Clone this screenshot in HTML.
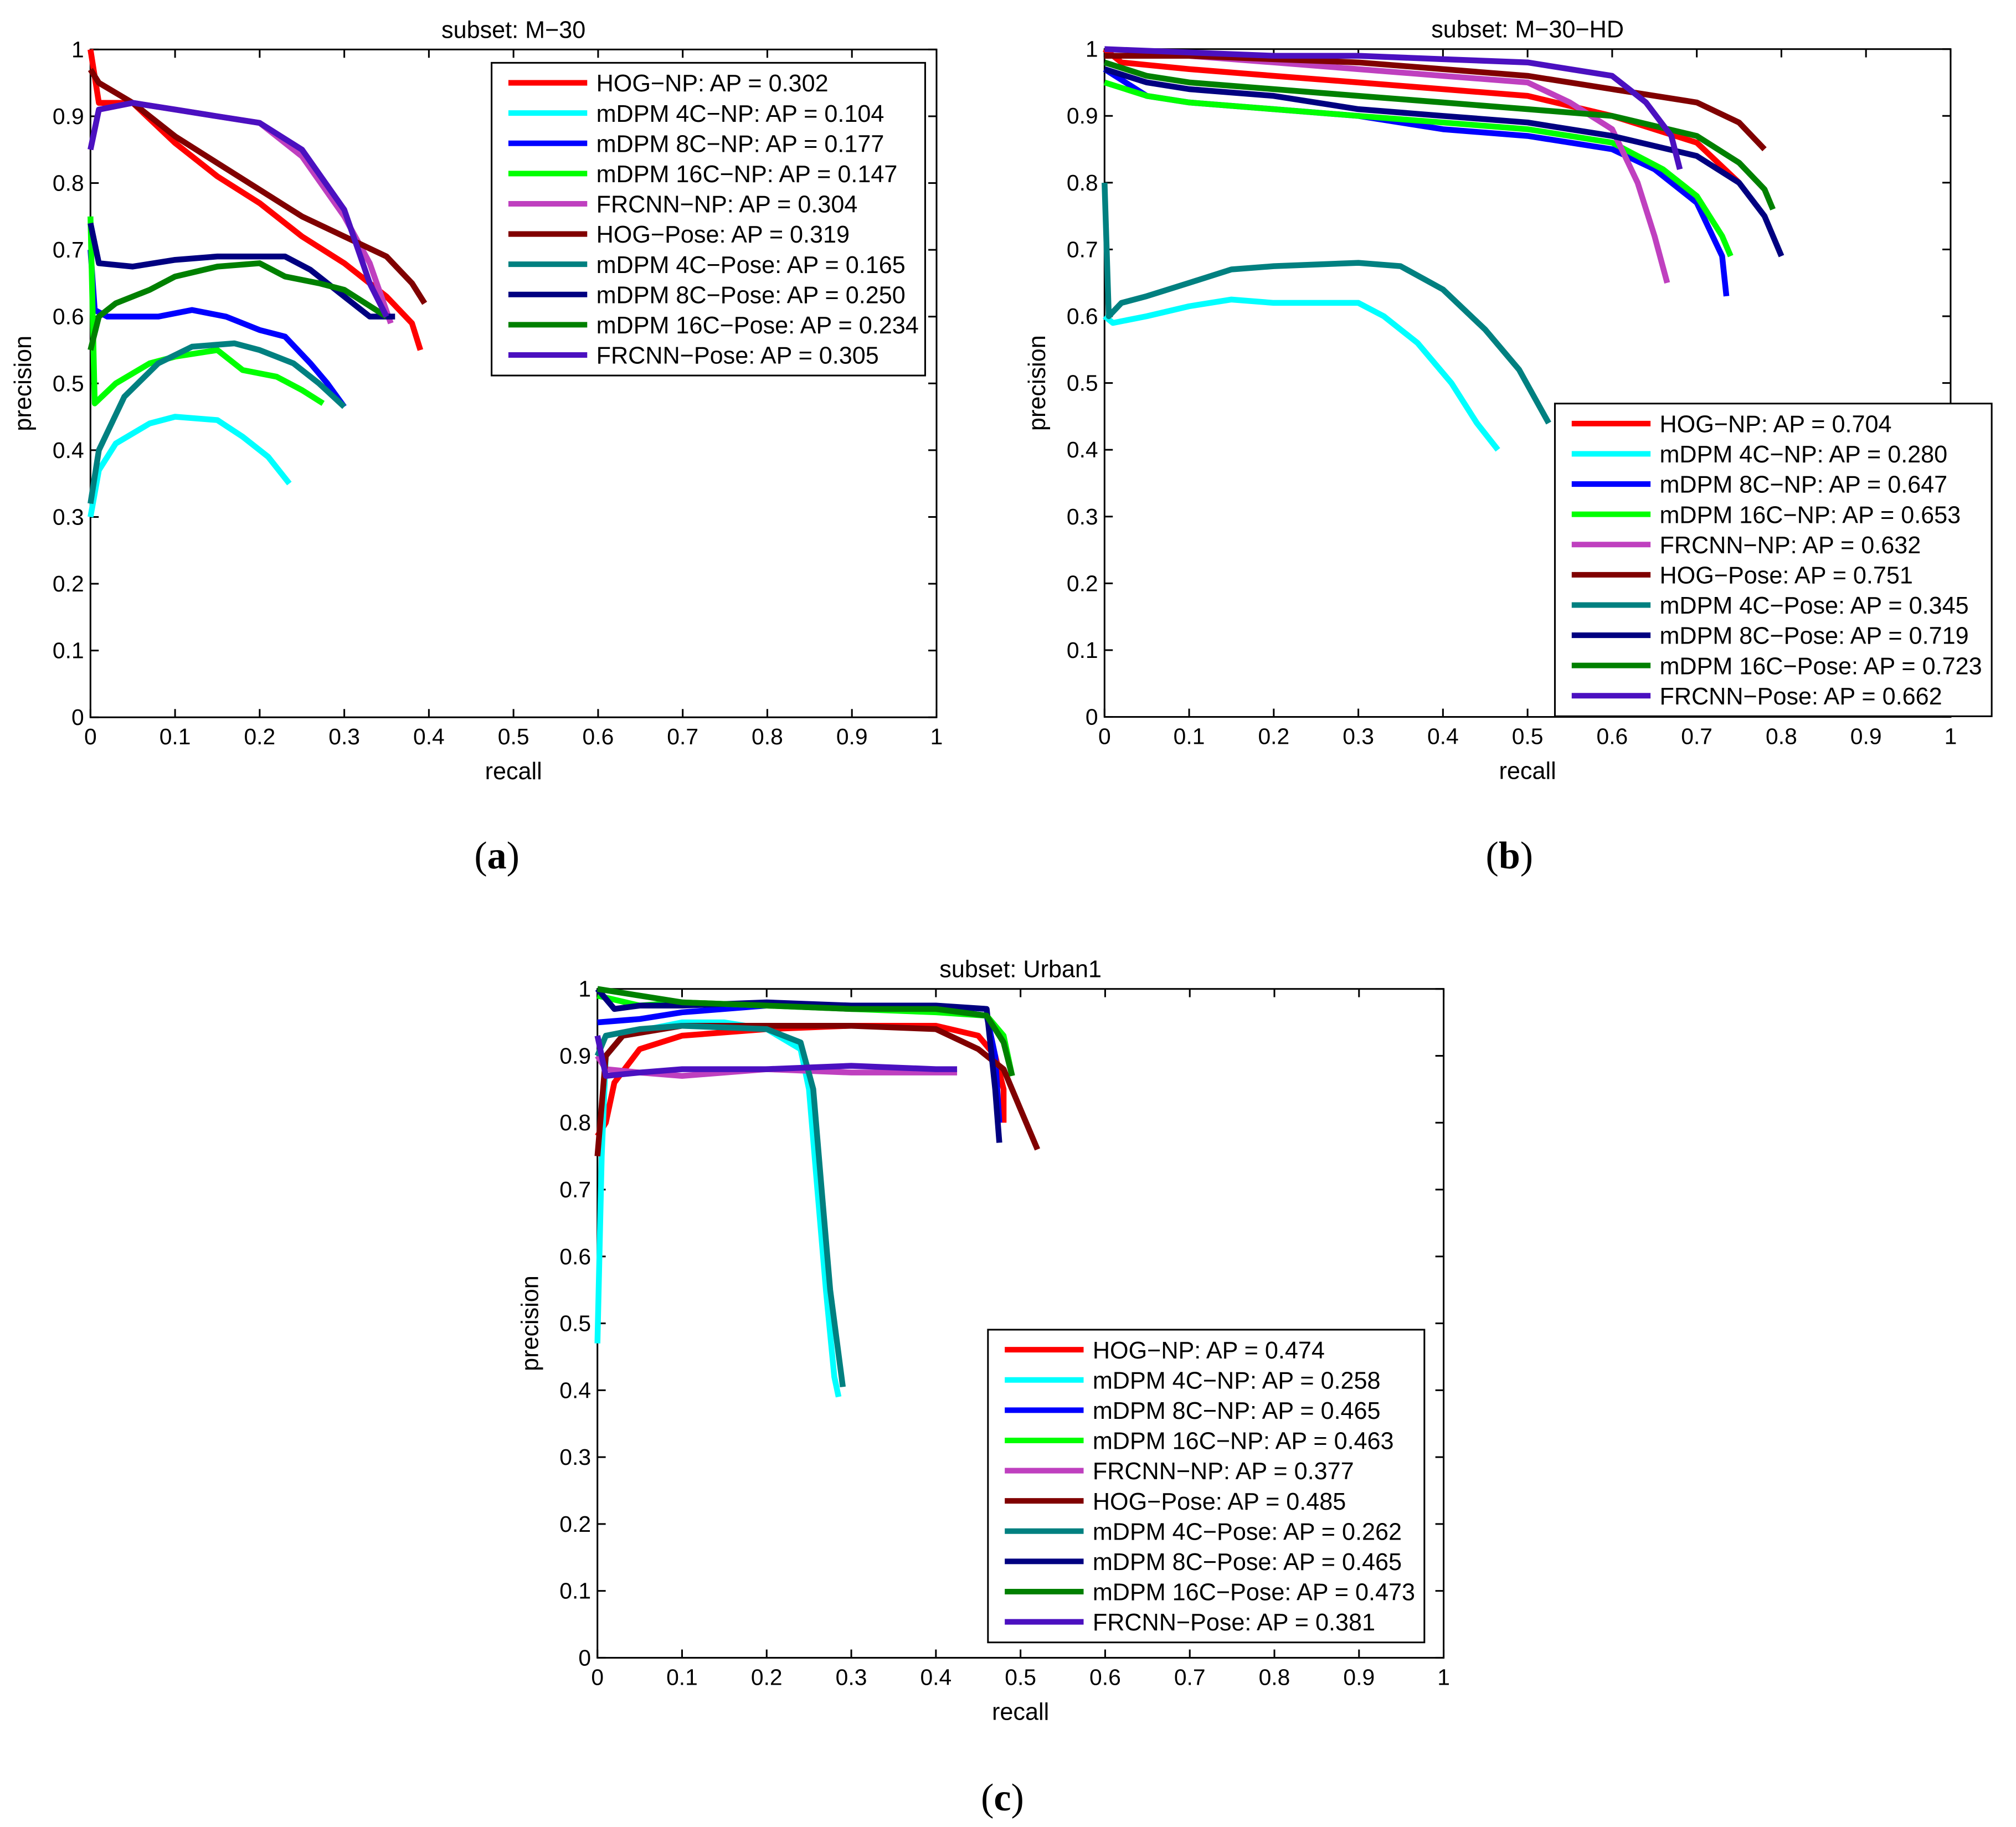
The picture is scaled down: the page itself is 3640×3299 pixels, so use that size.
<!DOCTYPE html>
<html><head><meta charset="utf-8"><style>
html,body{margin:0;padding:0;background:#fff}
svg{display:block}
text{font-family:"Liberation Sans",sans-serif;fill:#000}
</style></head><body>
<svg id="fig" xmlns="http://www.w3.org/2000/svg" width="3640" height="3299" viewBox="0 0 1560 1413.86" preserveAspectRatio="none"></svg>
<script>
const names=["HOG-NP","mDPM 4C-NP","mDPM 8C-NP","mDPM 16C-NP","FRCNN-NP","HOG-Pose","mDPM 4C-Pose","mDPM 8C-Pose","mDPM 16C-Pose","FRCNN-Pose"];
const colors=["#ff0000","#00ffff","#0000ff","#00ff00","#bf40bf","#800000","#008080","#000080","#008000","#4b10c0"];
const ticks=[0,0.1,0.2,0.3,0.4,0.5,0.6,0.7,0.8,0.9,1];
const tickLabels=["0","0.1","0.2","0.3","0.4","0.5","0.6","0.7","0.8","0.9","1"];
const apA=["0.302","0.104","0.177","0.147","0.304","0.319","0.165","0.250","0.234","0.305"];
const apB=["0.704","0.280","0.647","0.653","0.632","0.751","0.345","0.719","0.723","0.662"];
const apC=["0.474","0.258","0.465","0.463","0.377","0.485","0.262","0.465","0.473","0.381"];
const curvesA=[
[[0,1],[0.01,0.92],[0.05,0.92],[0.1,0.86],[0.15,0.81],[0.2,0.77],[0.25,0.72],[0.3,0.68],[0.35,0.63],[0.38,0.59],[0.39,0.55]],
[[0,0.3],[0.01,0.37],[0.03,0.41],[0.07,0.44],[0.1,0.45],[0.15,0.445],[0.18,0.42],[0.21,0.39],[0.235,0.35]],
[[0,0.7],[0.005,0.61],[0.02,0.6],[0.05,0.6],[0.08,0.6],[0.12,0.61],[0.16,0.6],[0.2,0.58],[0.23,0.57],[0.26,0.53],[0.28,0.5],[0.3,0.465]],
[[0,0.75],[0.005,0.47],[0.03,0.5],[0.07,0.53],[0.1,0.54],[0.15,0.55],[0.18,0.52],[0.22,0.51],[0.25,0.49],[0.275,0.47]],
[[0,0.85],[0.01,0.91],[0.05,0.92],[0.1,0.91],[0.15,0.9],[0.2,0.89],[0.25,0.84],[0.3,0.75],[0.33,0.68],[0.355,0.59]],
[[0,0.97],[0.01,0.95],[0.05,0.92],[0.1,0.87],[0.15,0.83],[0.2,0.79],[0.25,0.75],[0.3,0.72],[0.35,0.69],[0.38,0.65],[0.395,0.62]],
[[0,0.32],[0.01,0.4],[0.04,0.48],[0.08,0.53],[0.12,0.555],[0.17,0.56],[0.2,0.55],[0.24,0.53],[0.27,0.5],[0.3,0.465]],
[[0,0.74],[0.01,0.68],[0.05,0.675],[0.1,0.685],[0.15,0.69],[0.2,0.69],[0.23,0.69],[0.26,0.67],[0.3,0.63],[0.33,0.6],[0.36,0.6]],
[[0,0.55],[0.01,0.6],[0.03,0.62],[0.07,0.64],[0.1,0.66],[0.15,0.675],[0.2,0.68],[0.23,0.66],[0.27,0.65],[0.3,0.64],[0.35,0.6]],
[[0,0.85],[0.01,0.91],[0.05,0.92],[0.1,0.91],[0.15,0.9],[0.2,0.89],[0.25,0.85],[0.3,0.76],[0.33,0.65],[0.35,0.6]]];
const curvesB=[
[[0,1],[0.02,0.98],[0.1,0.97],[0.2,0.96],[0.3,0.95],[0.4,0.94],[0.5,0.93],[0.6,0.9],[0.7,0.86],[0.75,0.8]],
[[0,0.6],[0.01,0.59],[0.05,0.6],[0.1,0.615],[0.15,0.625],[0.2,0.62],[0.3,0.62],[0.33,0.6],[0.37,0.56],[0.41,0.5],[0.44,0.44],[0.465,0.4]],
[[0,0.97],[0.05,0.93],[0.1,0.92],[0.2,0.91],[0.3,0.9],[0.4,0.88],[0.5,0.87],[0.6,0.85],[0.65,0.82],[0.7,0.77],[0.73,0.69],[0.735,0.63]],
[[0,0.95],[0.05,0.93],[0.1,0.92],[0.2,0.91],[0.3,0.9],[0.4,0.89],[0.5,0.88],[0.6,0.86],[0.66,0.82],[0.7,0.78],[0.73,0.72],[0.74,0.69]],
[[0,0.99],[0.1,0.99],[0.2,0.98],[0.3,0.97],[0.4,0.96],[0.5,0.95],[0.55,0.92],[0.6,0.88],[0.63,0.8],[0.65,0.72],[0.665,0.65]],
[[0,0.99],[0.1,0.99],[0.2,0.985],[0.3,0.98],[0.4,0.97],[0.5,0.96],[0.6,0.94],[0.7,0.92],[0.75,0.89],[0.78,0.85]],
[[0,0.8],[0.005,0.6],[0.02,0.62],[0.05,0.63],[0.1,0.65],[0.15,0.67],[0.2,0.675],[0.3,0.68],[0.35,0.675],[0.4,0.64],[0.45,0.58],[0.49,0.52],[0.525,0.44]],
[[0,0.97],[0.05,0.95],[0.1,0.94],[0.2,0.93],[0.3,0.91],[0.4,0.9],[0.5,0.89],[0.6,0.87],[0.7,0.84],[0.75,0.8],[0.78,0.75],[0.8,0.69]],
[[0,0.98],[0.05,0.96],[0.1,0.95],[0.2,0.94],[0.3,0.93],[0.4,0.92],[0.5,0.91],[0.6,0.9],[0.7,0.87],[0.75,0.83],[0.78,0.79],[0.79,0.76]],
[[0,1],[0.1,0.995],[0.2,0.99],[0.3,0.99],[0.4,0.985],[0.5,0.98],[0.6,0.96],[0.64,0.92],[0.67,0.87],[0.68,0.82]]];
const curvesC=[
[[0,0.78],[0.01,0.8],[0.02,0.86],[0.05,0.91],[0.1,0.93],[0.2,0.94],[0.3,0.945],[0.4,0.945],[0.45,0.93],[0.47,0.9],[0.48,0.85],[0.48,0.8]],
[[0,0.47],[0.005,0.75],[0.01,0.9],[0.03,0.93],[0.06,0.94],[0.1,0.95],[0.15,0.95],[0.2,0.94],[0.24,0.91],[0.25,0.85],[0.26,0.7],[0.27,0.55],[0.28,0.42],[0.285,0.39]],
[[0,0.95],[0.05,0.955],[0.1,0.965],[0.2,0.975],[0.3,0.975],[0.4,0.97],[0.46,0.96],[0.47,0.9],[0.475,0.8]],
[[0,0.99],[0.05,0.975],[0.1,0.98],[0.2,0.975],[0.3,0.97],[0.4,0.965],[0.46,0.96],[0.48,0.93],[0.49,0.87]],
[[0,0.9],[0.01,0.88],[0.05,0.875],[0.1,0.87],[0.2,0.88],[0.3,0.875],[0.4,0.875],[0.425,0.875]],
[[0,0.75],[0.01,0.9],[0.03,0.93],[0.1,0.945],[0.2,0.945],[0.3,0.945],[0.4,0.94],[0.45,0.91],[0.48,0.88],[0.5,0.82],[0.52,0.76]],
[[0,0.9],[0.01,0.93],[0.05,0.94],[0.1,0.945],[0.2,0.94],[0.24,0.92],[0.255,0.85],[0.265,0.7],[0.275,0.55],[0.29,0.405]],
[[0,1],[0.02,0.97],[0.05,0.975],[0.1,0.975],[0.2,0.98],[0.3,0.975],[0.4,0.975],[0.46,0.97],[0.47,0.85],[0.475,0.77]],
[[0,1],[0.05,0.99],[0.1,0.98],[0.2,0.975],[0.3,0.97],[0.4,0.97],[0.46,0.96],[0.48,0.92],[0.49,0.87]],
[[0,0.93],[0.01,0.87],[0.05,0.875],[0.1,0.88],[0.2,0.88],[0.3,0.885],[0.4,0.88],[0.425,0.88]]];

const NS="http://www.w3.org/2000/svg";
const svg=document.getElementById('fig');
function mk(tag,attrs,parent,txt){const e=document.createElementNS(NS,tag);for(const k in attrs)e.setAttribute(k,attrs[k]);if(txt!==undefined)e.textContent=txt;(parent||svg).appendChild(e);return e;}

function panel(id,x0,yTop,W,H,title,curves,ap,leg,sub){
  const yB=yTop+H;
  const g=mk('g',{},svg);
  
  
  const sx=v=>x0+v*W, sy=v=>yB-v*H;
  const bg=mk('rect',{x:x0,y:yTop,width:W,height:H,fill:'#fff',stroke:'#000','stroke-width':1.3},g);
  
  
  ticks.forEach((t,i)=>{
    mk('line',{x1:sx(t),x2:sx(t),y1:yB,y2:yB-6.4,stroke:'#000','stroke-width':1.3},g);
    mk('line',{x1:sx(t),x2:sx(t),y1:yTop,y2:yTop+6.4,stroke:'#000','stroke-width':1.3},g);
    mk('line',{x1:x0,x2:x0+6.4,y1:sy(t),y2:sy(t),stroke:'#000','stroke-width':1.3},g);
    mk('line',{x1:x0+W,x2:x0+W-6.4,y1:sy(t),y2:sy(t),stroke:'#000','stroke-width':1.3},g);
    const xl=mk('text',{x:sx(t),y:yB+21,'font-size':17.5,'text-anchor':'middle'},g,tickLabels[i]);
    
    
    const yl=mk('text',{x:x0-5,y:sy(t)+6,'font-size':17.5,'text-anchor':'end'},g,tickLabels[i]);
    
    
  });
  const tt=mk('text',{x:x0+W/2,y:yTop-9,'font-size':18.5,'text-anchor':'middle'},g,title);
  
  
  const xt=mk('text',{x:x0+W/2,y:yB+48,'font-size':18.5,'text-anchor':'middle'},g,'recall');
  
  
  const yt=mk('text',{x:0,y:0,'font-size':18.5,'text-anchor':'middle',transform:`translate(${x0-46},${yTop+H/2}) rotate(-90)`},g,'precision');
  
  
  curves.forEach((c,i)=>{
    const p=mk('polyline',{points:c.map(d=>sx(d[0]).toFixed(1)+','+sy(d[1]).toFixed(1)).join(' '),fill:'none',stroke:colors[i],'stroke-width':4.5,'stroke-linejoin':'round'},g);
    
    
  });
  const lb=mk('rect',{x:leg[0],y:leg[1],width:leg[2],height:242,fill:'#fff',stroke:'#000','stroke-width':1.3},g);
  
  
  names.forEach((n,i)=>{
    const y=leg[1]+15.5+i*23.4;
    mk('line',{x1:leg[0]+13,x2:leg[0]+74,y1:y,y2:y,stroke:colors[i],'stroke-width':4.3},g);
    const lt=mk('text',{x:leg[0]+81,y:y+6.7,'font-size':18.5},g,n.replace('-','\u2212')+': AP = '+ap[i]);
    
    
  });
  const sl=mk('text',{x:sub[0],y:sub[1],'font-size':30,'text-anchor':'middle',style:'font-family:"Liberation Serif",serif'},svg);
  sl.innerHTML='(<tspan font-weight="bold">'+sub[2]+'</tspan>)';
  
  
}
panel('panel-a',70,38.3,654.7,516.8,'subset: M\u221230',curvesA,apA,[380.4,48.6,335.5],[384.5,672,'a']);
panel('panel-b',854.7,38.0,654.7,516.8,'subset: M\u221230\u2212HD',curvesB,apB,[1203.2,312.3,338],[1168,672,'b']);
panel('panel-c',462.3,765.3,654.8,517.6,'subset: Urban1',curvesC,apC,[764.5,1029,337.7],[775.7,1401,'c']);
</script>
</body></html>
